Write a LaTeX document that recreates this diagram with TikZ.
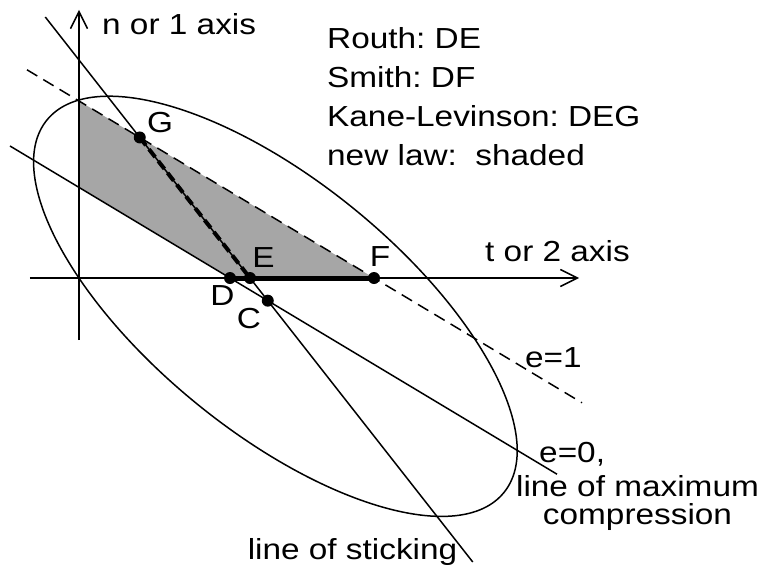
\documentclass[tikz,border=0pt]{standalone}
\usepackage{fontspec}
\setmainfont[FakeStretch=1.15]{Liberation Sans}
\usetikzlibrary{arrows.meta,positioning}
\tikzset{
  axis/.style={line width=1.5pt, -{Straight Barb[length=17pt,width=17pt]}},
  thinline/.style={line width=1.5pt},
  dot/.style={circle, fill=black, inner sep=0pt, minimum size=12pt},
  lbl/.style={font=\fontsize{29pt}{35pt}\selectfont\frenchspacing, inner sep=0pt},
}

\begin{document}
\begin{tikzpicture}[x=40pt, y=40pt]
  \useasboundingbox (-1.975,-7.325) rectangle (17.15,6.95);

  % points on the t axis
  \coordinate (O) at (0,0);
  \coordinate (D) at (3.775,0);
  \coordinate (E) at (4.275,0);
  \coordinate (F) at (7.375,0);
  \coordinate (P1) at (0,4.425);
  \coordinate (P0) at (0,2.265);

  % ends of the lines
  \coordinate (e1a) at (-1.3,5.205);
  \coordinate (e1b) at (12.575,-3.12);
  \coordinate (e0a) at (-1.725,3.3);
  \coordinate (e0b) at (11.95,-4.905);
  \coordinate (sta) at (-0.843,6.525);
  \coordinate (stb) at (9.844,-7.1);
  \coordinate (G) at (intersection of e1a--e1b and sta--stb);
  \coordinate (C) at (intersection of e0a--e0b and sta--stb);

  % new law
  \fill[black!35] (P1) -- (F) -- (D) -- (P0) -- cycle;

  % ellipse
  \draw[thinline, rotate around={-39.2:(4.91,-0.7075)}] (4.91,-0.7075) ellipse (7.37 and 3.13);

  % axes
  \draw[axis] (0,-1.55) -- (0,6.7);
  \draw[axis] (-1.225,0) -- (12.5,0);

  \draw[thinline, dash pattern=on 12pt off 7pt] (e1a) -- (e1b);
  \draw[thinline] (e0a) -- (e0b);
  \draw[thinline] (sta) -- (stb);
  \draw[line width=5pt] (D) -- (F);
  \draw[line width=4pt, dash pattern=on 10pt off 5pt] (G) -- (E);

  \foreach \p in {C,D,E,F,G} {
    \node[dot] (dot\p) at (\p) {};
  }

  % point labels
  \node[lbl] (labG) at (2.025,3.8875) {G};
  \node[lbl] (labE) at (4.6125,0.5125) {E};
  \node[lbl] (labF) at (7.525,0.5375) {F};
  \node[lbl] (labD) at (3.5875,-0.45) {D};
  \node[lbl] (labC) at (4.25,-1.025) {C};

  % axis and line labels
  \node[lbl, anchor=base west] (naxis) at (0.575,6.075) {n or 1 axis};
  \node[lbl, anchor=base west] (taxis) at (10.15,0.425) {t or 2 axis};
  \node[lbl, anchor=base west] (eone) at (11.15,-2.225) {e=1};
  \node[lbl, anchor=base west] (ezero) at (11.5,-4.6) {e=0,};
  \node[lbl, anchor=base] (lmax) at (13.9625,-5.45) {line of maximum};
  \node[lbl, anchor=base] (comp) at ([yshift=-28pt]lmax.base) {compression};
  \node[lbl, anchor=base] (stick) at (6.8375,-7.025) {line of sticking};

  % legend
  \node[lbl, anchor=base west] (routh) at (6.2,5.725) {Routh: DE};
  \node[lbl, anchor=base west] (smith) at ([yshift=-38.7pt]routh.base west) {Smith: DF};
  \node[lbl, anchor=base west] (kane) at ([yshift=-38.7pt]smith.base west) {Kane-Levinson: DEG};
  \node[lbl, anchor=base west] (newlaw) at ([yshift=-38.7pt]kane.base west) {new law:\ \ shaded};
\end{tikzpicture}
\end{document}
